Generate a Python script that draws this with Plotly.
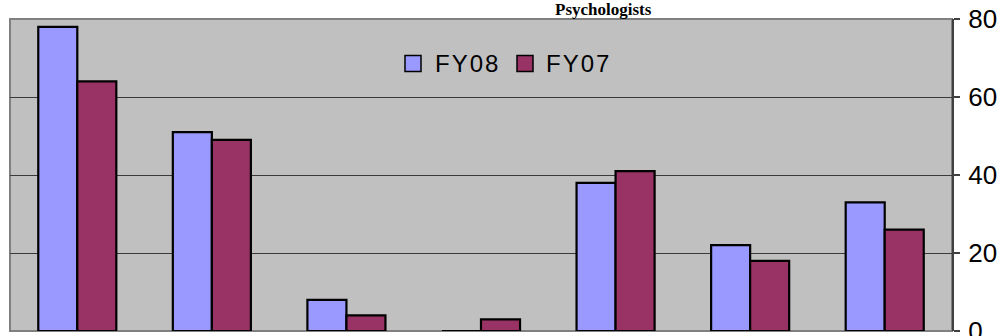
import plotly.graph_objects as go

# Psychologists by site, FY08 vs FY07
categories = ["1", "2", "3", "4", "5", "6", "7"]
fy08 = [78, 51, 8, 0, 38, 22, 33]
fy07 = [64, 49, 4, 3, 41, 18, 26]
series_names = ["FY08", "FY07"]
series_colors = ["#9999FF", "#993366"]
y_ticks = [0, 20, 40, 60, 80]
title_text = "Psychologists"

W, H = 998, 336
ML, MR, MT, MB = 10, 46, 19, 5
PW, PH = W - ML - MR, H - MT - MB


def px_x(px):
    return (px - ML) / PW


def px_y(py):
    return (H - MB - py) / PH


fig = go.Figure()
for name, vals, col in zip(series_names, [fy08, fy07], series_colors):
    fig.add_trace(go.Bar(
        x=categories, y=vals, name=name,
        marker=dict(color=col, line=dict(color="black", width=2.2)),
        showlegend=False,
    ))

# hand-placed legend: swatches + letter-spaced labels
legend_items = [(405, 433), (517, 544)]
shapes = []
annotations = []
for (sx, tx), name, col in zip(legend_items, series_names, series_colors):
    shapes.append(dict(type="rect", xref="paper", yref="paper",
                       x0=px_x(sx), x1=px_x(sx + 16), y0=px_y(55.5), y1=px_y(71.5),
                       fillcolor=col, line=dict(color="black", width=1.5)))
    annotations.append(dict(
        xref="paper", yref="paper", x=px_x(tx), y=px_y(63.5),
        xanchor="left", yanchor="middle", showarrow=False,
        text=f'<span style="letter-spacing:2px">{name}</span>',
        font=dict(family="Liberation Sans", size=24, color="black"),
    ))

# plot-area frame
shapes.append(dict(type="rect", xref="paper", yref="paper", x0=0, x1=1, y0=0, y1=1,
                   line=dict(color="#808080", width=2), layer="below"))

annotations.append(dict(
    xref="paper", yref="paper", x=px_x(603), y=px_y(9.5),
    xanchor="center", yanchor="middle", showarrow=False, text=title_text,
    font=dict(family="Liberation Serif", size=17, color="black", weight="bold"),
))

fig.update_layout(
    width=W, height=H,
    margin=dict(l=ML, r=MR, t=MT, b=MB, pad=0, autoexpand=False),
    paper_bgcolor="white", plot_bgcolor="#C0C0C0",
    barmode="group", bargap=0.42, bargroupgap=0,
    shapes=shapes, annotations=annotations,
    xaxis=dict(type="category", showticklabels=False, showgrid=False,
               zeroline=False, showline=False, ticks="", automargin=False),
    yaxis=dict(side="right", range=[0, 80], tickvals=y_ticks, automargin=False,
               showgrid=True, gridcolor="#3a3a3a", gridwidth=1.2,
               zeroline=False, showline=True, linecolor="#404040", linewidth=2,
               ticks="outside", ticklen=6, tickcolor="#404040", tickwidth=1.5,
               tickfont=dict(family="Liberation Sans", size=26, color="black"),
               ticklabelstandoff=3, ticklabeloverflow="allow"),
)

fig.write_html("out.html")
